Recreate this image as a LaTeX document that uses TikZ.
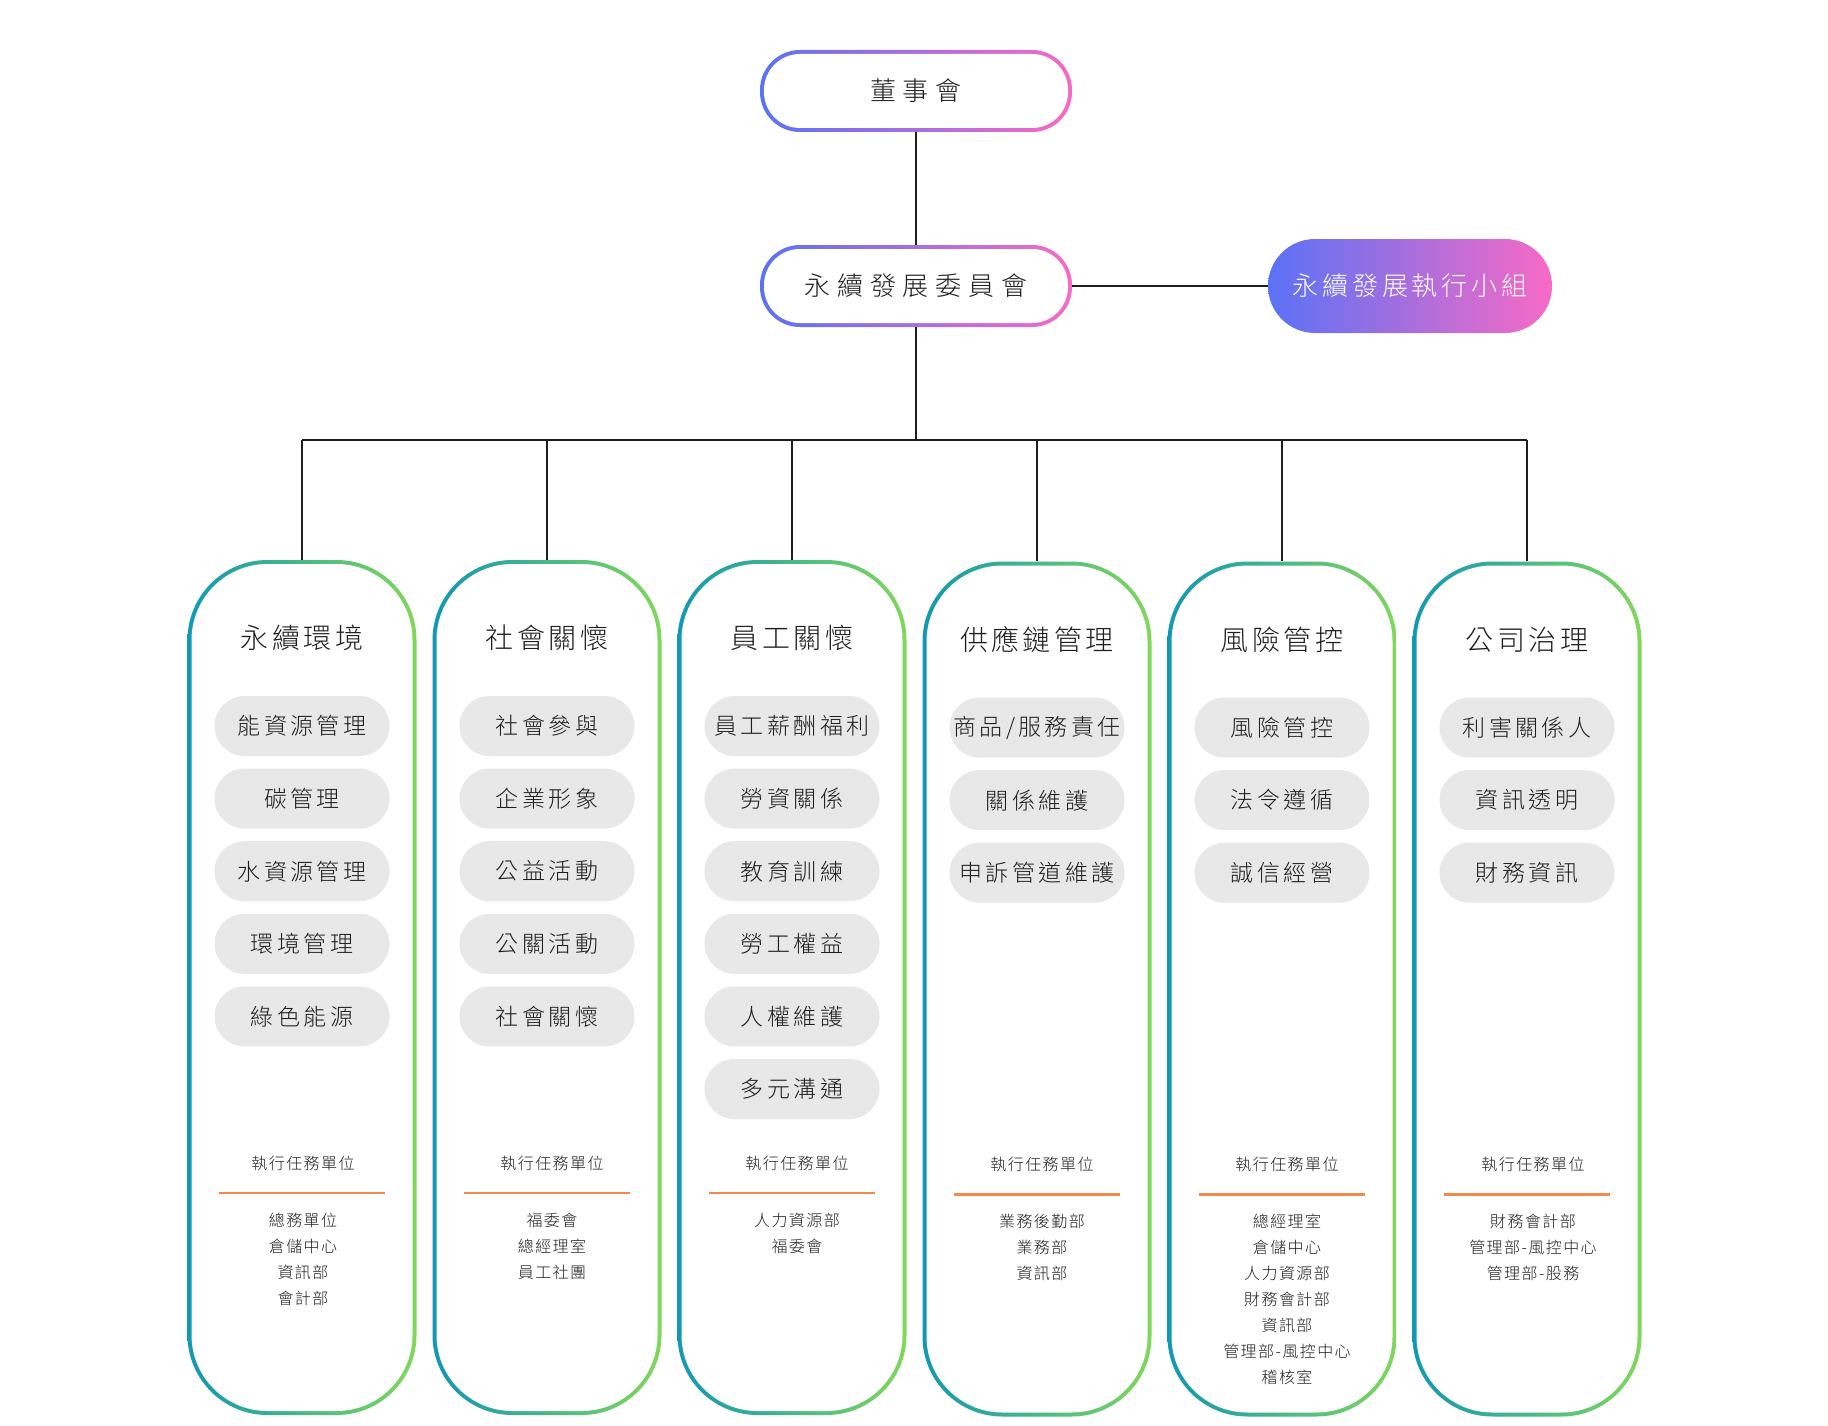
\documentclass[tikz,border=0pt]{standalone}
\usepackage{fontspec}
\setmainfont{Noto Sans CJK TC Light}
\definecolor{bl}{HTML}{5A72F6}
\definecolor{pk}{HTML}{F86AC5}
\definecolor{tl}{HTML}{1198B4}
\definecolor{gr}{HTML}{80D85A}
\definecolor{pillg}{HTML}{E8E8E8}
\definecolor{orng}{HTML}{F5884B}
\definecolor{ink}{HTML}{1E1E1E}
\tikzset{
  conn/.style={draw=ink, line width=2pt},
  topbox/.style={rectangle, rounded corners=40pt, minimum width=312pt, minimum height=82pt, left color=bl, right color=pk, inner sep=0pt},
  topinner/.style={rectangle, rounded corners=36pt, minimum width=304pt, minimum height=74pt, fill=white, inner sep=0pt, text=ink, font=\fontsize{26}{30}\selectfont\addfontfeatures{LetterSpace=26}},
  execbox/.style={rectangle, rounded corners=47pt, minimum width=284pt, minimum height=94pt, left color=bl, right color=pk, inner sep=0pt, text=white, font=\fontsize{26}{30}\selectfont\addfontfeatures{LetterSpace=15}},
  colbox/.style={rectangle, rounded corners=80pt, minimum width=229pt, minimum height=855pt, left color=tl, right color=gr, inner sep=0pt},
  colinner/.style={rectangle, rounded corners=76pt, minimum width=221pt, minimum height=847pt, fill=white, inner sep=0pt},
  coltitle/.style={text=ink, inner sep=0pt, font=\fontsize{28}{32}\selectfont\addfontfeatures{LetterSpace=12}},
  pill/.style={rectangle, rounded corners=30pt, minimum width=175pt, minimum height=60pt, fill=pillg, inner sep=0pt, text=ink, font=\fontsize{23}{27}\selectfont\addfontfeatures{LetterSpace=15}},
  lowtext/.style={text=ink, inner sep=0pt, font=\fontsize{16}{19}\selectfont\addfontfeatures{LetterSpace=9}},
  orangeline/.style={draw=orng, line width=2.5pt}
}
\newcommand\OrgCol[7]{%
  \node[colbox] (#1) at (#2, 987.5+#3) {};
  \node[colinner] (#1in) at (#2, 987.5+#3) {};
  \node[coltitle] (#1t) at (#2, 638+#3) {#5};
  \foreach \p [count=\i] in {#6} {\node[pill] (#1p\i) at (#2, 726+#3+72.6*\i-72.6) {\p};}
  \node[lowtext] (#1h) at (#2+#4, 1163+#3) {執行任務單位};
  \draw[orangeline] (#2-83, 1193+#3) -- (#2+83, 1193+#3);
  \foreach \u [count=\i] in {#7} {\node[lowtext] (#1u\i) at (#2+#4, 1220+#3+26*\i-26) {\u};}
}
\begin{document}
\begin{tikzpicture}[x=1pt,y=-1pt]
\fill[white] (0,0) rectangle (1828,1426);
\useasboundingbox (0,0) rectangle (1828,1426);
\node[topbox] (boardO) at (916,91) {};
\node[topinner] (board) at (916,91) {董事會};
\node[topbox] (commO) at (916,286) {};
\node[topinner] (comm) at (916,286) {永續發展委員會};
\node[execbox] (exec) at (1410,286) {永續發展執行小組};
\draw[conn] (boardO.south) -- (commO.north);
\draw[conn] (commO.east) -- (exec.west);
\coordinate (bus) at (916,440);
\draw[conn] (commO.south) -- (bus);
\OrgCol{c1}{302}{0}{1}{永續環境}{能資源管理,碳管理,水資源管理,環境管理,綠色能源}{總務單位,倉儲中心,資訊部,會計部}
\OrgCol{c2}{547}{0}{5}{社會關懷}{社會參與,企業形象,公益活動,公關活動,社會關懷}{福委會,總經理室,員工社團}
\OrgCol{c3}{792}{0}{5}{員工關懷}{員工薪酬福利,勞資關係,教育訓練,勞工權益,人權維護,多元溝通}{人力資源部,福委會}
\OrgCol{c4}{1037}{1.5}{5}{供應鏈管理}{商品/服務責任,關係維護,申訴管道維護}{業務後勤部,業務部,資訊部}
\OrgCol{c5}{1282}{1.5}{5}{風險管控}{風險管控,法令遵循,誠信經營}{總經理室,倉儲中心,人力資源部,財務會計部,資訊部,管理部-風控中心,稽核室}
\OrgCol{c6}{1527}{1.5}{6}{公司治理}{利害關係人,資訊透明,財務資訊}{財務會計部,管理部-風控中心,管理部-股務}
\draw[conn] (c1.north |- bus) -- (c6.north |- bus);
\foreach \c in {c1,c2,c3,c4,c5,c6} {\draw[conn] (\c.north |- bus) -- (\c.north);}
\end{tikzpicture}
\end{document}
